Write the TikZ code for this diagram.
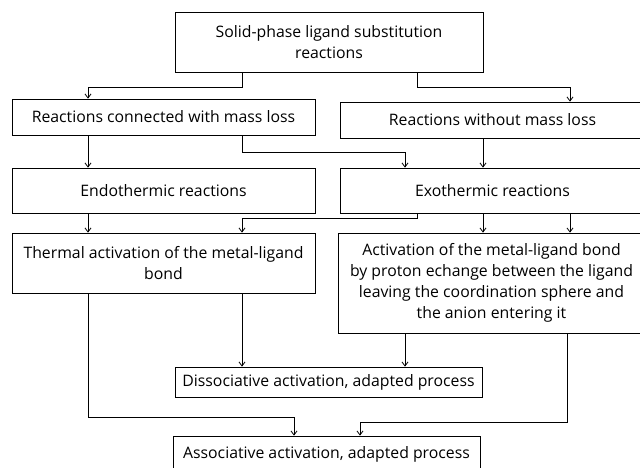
\documentclass[tikz,border=0pt]{standalone}
\usepackage{fontspec}
\setmainfont{Open Sans}
\usetikzlibrary{arrows.meta}
\begin{document}
\begin{tikzpicture}[x=1pt,y=-1pt,
 box/.style={draw, line width=0.8pt, inner sep=0pt, align=center, font=\fontsize{15.8}{21}\selectfont},
 arr/.style={line width=0.8pt, -{Straight Barb[length=4pt,width=6pt]}}]
\useasboundingbox (0,0) rectangle (640,468);
\clip (0,0) rectangle (640,468);
% boxes
\node[box, minimum width=308pt, minimum height=60pt] (top) at (329,42) {Solid-phase ligand substitution\\reactions};
\node[box, minimum width=303pt, minimum height=36pt] (mloss) at (163.5,117) {Reactions connected with mass loss};
\node[box, minimum width=305pt, minimum height=36pt] (nomloss) at (492.5,120) {Reactions without mass loss};
\node[box, minimum width=303pt, minimum height=45pt] (endo) at (163.5,190.5) {Endothermic reactions};
\node[box, minimum width=305pt, minimum height=45pt] (exo) at (492.5,190.5) {Exothermic reactions};
\node[box, minimum width=303pt, minimum height=60pt] (therm) at (163.5,263) {Thermal activation of the metal-ligand\\bond};
\node[box, minimum width=307pt, minimum height=100pt] (activ) at (491.5,283) {Activation of the metal-ligand bond\\by proton echange between the ligand\\leaving the coordination sphere and\\the anion entering it};
\node[box, minimum width=307pt, minimum height=30pt] (dissoc) at (328.5,382) {Dissociative activation, adapted process};
\node[box, minimum width=307pt, minimum height=36pt] (assoc) at (326.5,454) {Associative activation, adapted process};
% column coordinates
\coordinate (c1) at (88,0);
\coordinate (c2) at (242,0);
\coordinate (c3) at (405,0);
\coordinate (c4) at (417,0);
\coordinate (c5) at (483,0);
\coordinate (c6) at (570,0);
\coordinate (c7) at (294,0);
\coordinate (c8) at (360,0);
\coordinate (c9) at (567,0);
% connectors
\draw[arr] (top.south -| c2) -- ++(0,15) -| (mloss.north -| c1);
\draw[arr] (top.south -| c4) -- ++(0,15) -| (nomloss.north -| c6);
\draw[arr] (mloss.south -| c1) -- (endo.north -| c1);
\draw[arr] (mloss.south -| c2) -- ++(0,17) -| (exo.north -| c3);
\draw[arr] (nomloss.south -| c5) -- (exo.north -| c5);
\draw[arr] (endo.south -| c1) -- (therm.north -| c1);
\draw[arr] (exo.south -| c4) -- ++(0,5) -| (therm.north -| c2);
\draw[arr] (exo.south -| c5) -- (activ.north -| c5);
\draw[arr] (exo.south -| c6) -- (activ.north -| c6);
\draw[arr] (therm.south -| c2) -- (dissoc.north -| c2);
\draw[arr] (therm.south -| c1) -- ++(0,124) -| (assoc.north -| c7);
\draw[arr] (activ.south -| c3) -- (dissoc.north -| c3);
\draw[arr] (activ.south -| c9) -- ++(0,89) -| (assoc.north -| c8);
\end{tikzpicture}
\end{document}
